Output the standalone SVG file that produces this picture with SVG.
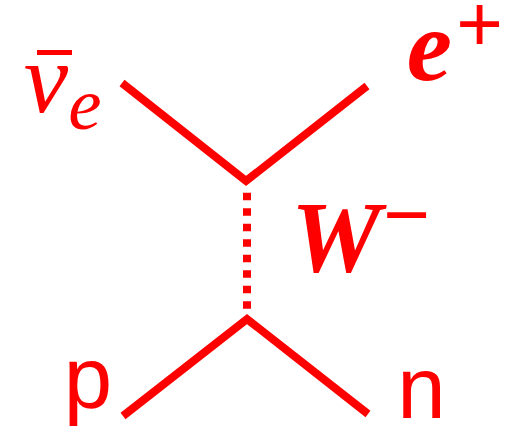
<svg xmlns="http://www.w3.org/2000/svg" width="513" height="429" viewBox="0 0 513 429">
<style>
.ln{fill:none;stroke:#ff0000;stroke-width:8;stroke-linejoin:miter;stroke-linecap:butt}
.dash{stroke-dasharray:7.5 8}
.t{fill:#ff0000}
.it{font-family:"Liberation Serif","Times New Roman",serif;font-style:italic}
.bi{font-family:"Liberation Serif","Times New Roman",serif;font-style:italic;font-weight:bold}
.sans{font-family:"Liberation Sans",Arial,sans-serif}
</style>
<rect width="513" height="429" fill="#ffffff"/>
<g id="connectors">
<polyline class="ln" points="122,83 246,181 367,86"/>
<line class="ln dash" x1="247" y1="192.7" x2="247" y2="310"/>
<polyline class="ln" points="123,416 247,319 368,414"/>
</g>
<g id="antineutrino">
<text class="t it" x="46" y="112" font-size="100" text-anchor="middle">ν</text>
<line x1="37" y1="52.5" x2="72" y2="52.5" stroke="#ff0000" stroke-width="5"/>
<text class="t it" x="85" y="129" font-size="75" text-anchor="middle">e</text>
</g>
<g id="positron">
<text class="t bi" x="429.5" y="80" font-size="102" text-anchor="middle">e</text>
<text class="t sans" x="479.7" y="51.4" font-size="80" text-anchor="middle">+</text>
</g>
<g id="wboson">
<text class="t bi" x="336" y="272" font-size="101" text-anchor="middle">W</text>
<text class="t sans" x="406.5" y="242.4" font-size="80" text-anchor="middle">−</text>
</g>
<g id="proton">
<text class="t sans" x="88" y="408" font-size="87" text-anchor="middle">p</text>
</g>
<g id="neutron">
<text class="t sans" x="421.4" y="418" font-size="87" text-anchor="middle">n</text>
</g>
</svg>
